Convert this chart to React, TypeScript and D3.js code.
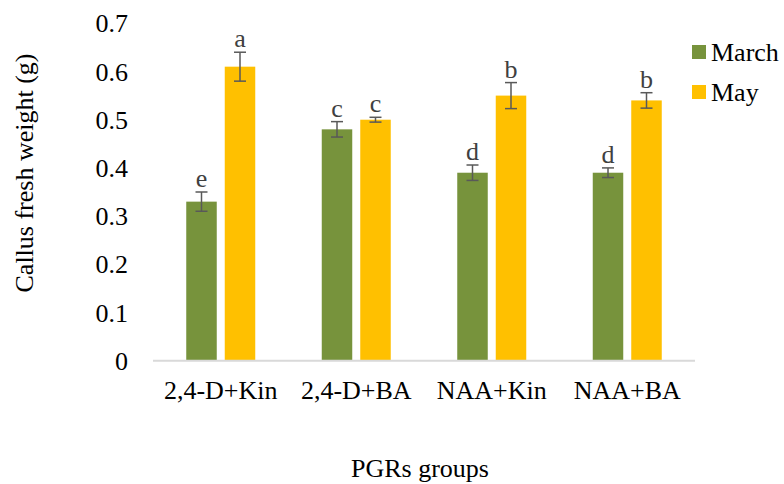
import React from 'react';
import * as d3 from 'd3';

const groups = ['2,4-D+Kin', '2,4-D+BA', 'NAA+Kin', 'NAA+BA'];
const seriesNames = ['March', 'May'];
const marchValues = [0.33, 0.48, 0.39, 0.39];
const mayValues = [0.61, 0.5, 0.55, 0.54];
const marchErrors = [0.02, 0.016, 0.016, 0.01];
const mayErrors = [0.03, 0.005, 0.027, 0.016];
const marchLetters = ['e', 'c', 'd', 'd'];
const mayLetters = ['a', 'c', 'b', 'b'];
const yTicks = [0, 0.1, 0.2, 0.3, 0.4, 0.5, 0.6, 0.7];

const colors = ['#77933C', '#FFC000'];
const font = '"Liberation Serif", "Times New Roman", serif';

export default function App() {
  const width = 784,
    height = 484;
  const left = 153,
    right = 695,
    top = 23.3,
    bottom = 360.7;

  const x = d3.scaleBand().domain(groups).range([left, right]);
  const y = d3.scaleLinear().domain([0, 0.7]).range([bottom, top]);
  const barW = 30.5;
  const gap = 8;

  const series = [
    { name: seriesNames[0], values: marchValues, errors: marchErrors, letters: marchLetters },
    { name: seriesNames[1], values: mayValues, errors: mayErrors, letters: mayLetters },
  ];

  const barX = (g: string, i: number) => {
    const c = (x(g) as number) + x.bandwidth() / 2;
    return i === 0 ? c - gap / 2 - barW : c + gap / 2;
  };

  return (
    <div style={{ position: 'absolute', left: 0, top: 0 }}>
      <svg width={width} height={height} style={{ display: 'block', background: '#fff' }}>
        {yTicks.map((t) => (
          <text
            key={t}
            x={128}
            y={y(t)}
            dy="0.35em"
            textAnchor="end"
            fontFamily={font}
            fontSize={26}
            fill="#000"
          >
            {t === 0 ? '0' : t.toFixed(1)}
          </text>
        ))}

        {series.map((s, i) =>
          groups.map((g, j) => {
            const bx = barX(g, j === undefined ? 0 : i);
            const v = s.values[j];
            const e = s.errors[j];
            const cx = bx + barW / 2;
            return (
              <g key={s.name + g}>
                <rect x={bx} y={y(v)} width={barW} height={bottom - y(v)} fill={colors[i]} />
                <line x1={cx} x2={cx} y1={y(v + e)} y2={y(v - e)} stroke="#595959" strokeWidth={1.5} />
                <line x1={cx - 6} x2={cx + 6} y1={y(v + e)} y2={y(v + e)} stroke="#595959" strokeWidth={1.5} />
                <line x1={cx - 6} x2={cx + 6} y1={y(v - e)} y2={y(v - e)} stroke="#595959" strokeWidth={1.5} />
                <text
                  x={cx}
                  y={y(v + e) - 5}
                  textAnchor="middle"
                  fontFamily={font}
                  fontSize={26}
                  fill="#404040"
                >
                  {s.letters[j]}
                </text>
              </g>
            );
          })
        )}

        <line x1={left} x2={right} y1={bottom} y2={bottom} stroke="#d9d9d9" strokeWidth={2} />

        {groups.map((g) => (
          <text
            key={g}
            x={(x(g) as number) + x.bandwidth() / 2}
            y={399}
            textAnchor="middle"
            fontFamily={font}
            fontSize={26}
            fill="#000"
          >
            {g}
          </text>
        ))}

        <text
          transform={`translate(33,${173}) rotate(-90)`}
          textAnchor="middle"
          fontFamily={font}
          fontSize={26}
          fill="#000"
        >
          Callus fresh weight (g)
        </text>
        <text x={420} y={477} textAnchor="middle" fontFamily={font} fontSize={26} fill="#000">
          PGRs groups
        </text>

        {series.map((s, i) => (
          <g key={s.name} transform={`translate(692,${45 + i * 40})`}>
            <rect x={0} y={0} width={14} height={14} fill={colors[i]} />
            <text x={19} y={7} dy="0.35em" fontFamily={font} fontSize={26} fill="#000">
              {s.name}
            </text>
          </g>
        ))}
      </svg>
    </div>
  );
}
